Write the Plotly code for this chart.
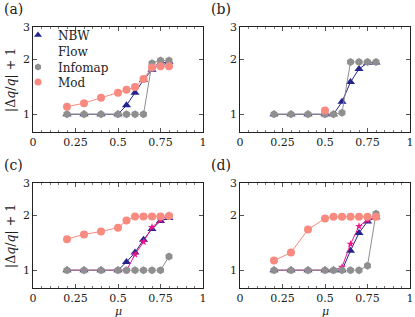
import plotly.graph_objects as go
import math

mu = [0.2, 0.3, 0.4, 0.5, 0.55, 0.6, 0.65, 0.7, 0.75, 0.8]

# panel (a)
a_nbw = [1, 1, 1, 1, 1.12, 1.31, 1.54, 1.75, 1.90, 1.94]
a_flow = [None, None, None, 1.0, None, None, None, None, None, None]
a_info = [1, 1, 1, 1, 1, 1, 1, 1.90, 1.97, 1.97]
a_mod = [1.10, 1.15, 1.23, 1.31, 1.36, 1.41, 1.56, 1.80, 1.83, 1.83]
# panel (b)
b_nbw = [1, 1, 1, 1, 1, 1.17, 1.50, 1.77, 1.91, 1.92]
b_flow = [None, None, None, 1.0, None, None, None, None, None, None]
b_info = [1, 1, 1, 1, 1, 1.02, 1.93, 1.93, 1.93, 1.93]
b_mod = [None, None, None, 1.05, None, None, None, None, None, None]
# panel (c)
c_nbw = [1, 1, 1, 1, 1.11, 1.25, 1.47, 1.68, 1.86, 1.93]
c_flow = [1, 1, 1, 1, 1, 1.22, 1.43, 1.72, 1.88, 2.0]
c_info = [1, 1, 1, 1, 1, 1, 1, 1, 1, 1.19]
c_mod = [1.48, 1.57, 1.63, 1.71, 1.87, 1.97, 1.97, 1.97, 1.97, 1.98]
# panel (d)
d_nbw = [1, 1, 1, 1, 1, 1, 1.28, 1.60, 1.85, 1.95]
d_flow = [1, 1, 1, 1, 1, 1.04, 1.39, 1.74, 1.88, 1.95]
d_info = [1, 1, 1, 1, 1, 1, 1, 1, 1.06, 2.04]
d_mod = [1.13, 1.25, 1.67, 1.92, 1.96, 1.96, 1.96, 1.96, 1.96, 1.96]

panels = [
    (a_nbw, a_flow, a_info, a_mod),
    (b_nbw, b_flow, b_info, b_mod),
    (c_nbw, c_flow, c_info, c_mod),
    (d_nbw, d_flow, d_info, d_mod),
]
names = ["NBW", "Flow", "Infomap", "Mod"]
colors = {"NBW": "#24248c", "Flow": "#f0148c", "Infomap": "#8f8f8f", "Mod": "#f88a80"}
symbols = {"NBW": "triangle-up", "Flow": "star", "Infomap": "hexagon", "Mod": "circle"}
msize = {"NBW": 8, "Flow": 6, "Infomap": 8, "Mod": 8}

W, H = 415, 317
xdom = [[33 / W, 203 / W], [240 / W, 410 / W]]
ydom = [[1 - 132 / H, 1 - 27 / H], [1 - 288 / H, 1 - 183 / H]]

fig = go.Figure()
font = "DejaVu Serif"
for i, (nbw, flow, info, mod) in enumerate(panels):
    r, c = divmod(i, 2)
    ax = "" if i == 0 else str(i + 1)
    xa, ya = "x" + ax, "y" + ax
    for nm, vals in (("NBW", nbw), ("Flow", flow), ("Infomap", info), ("Mod", mod)):
        fig.add_trace(go.Scatter(
            x=mu, y=vals, mode="lines+markers", xaxis=xa, yaxis=ya, showlegend=False,
            line=dict(color=colors[nm], width=1),
            marker=dict(color=colors[nm], symbol=symbols[nm], size=msize[nm], line=dict(width=0)),
            connectgaps=False,
        ))
    axcommon = dict(showline=True, linecolor="#222", linewidth=0.8, mirror="ticks",
                    ticks="inside", ticklen=4, tickcolor="#555", showgrid=False, zeroline=False,
                    automargin=False,
                    tickfont=dict(family=font, size=11, color="#222"))
    fig.update_layout(**{
        "xaxis" + ax: dict(domain=xdom[c], range=[0, 1], anchor=ya,
                           tickvals=[0, 0.25, 0.5, 0.75, 1], ticktext=["0", "0.25", "0.5", "0.75", "1"],
                           minor=dict(dtick=0.05, tick0=0, ticks="inside", ticklen=2, tickcolor="#777"),
                           **axcommon),
        "yaxis" + ax: dict(domain=ydom[r], type="log", range=[math.log10(0.8), math.log10(3)], anchor=xa,
                           tickvals=[1, 2, 3], ticktext=["1", "2", "3"], **axcommon),
    })

# legend-only entries, one small legend per entry for exact row spacing
leg_y = [35, 51, 67, 82]
legends = {}
for k, (nm, ly) in enumerate(zip(names, leg_y)):
    lname = "legend" if k == 0 else "legend%d" % (k + 1)
    col = "rgba(0,0,0,0)" if nm == "Flow" else colors[nm]
    fig.add_trace(go.Scatter(x=[None], y=[None], mode="markers", name=nm, legend=lname,
                             marker=dict(color=col, symbol=symbols[nm], size=7, line=dict(width=0))))
    legends[lname] = dict(x=18 / W, y=1 - ly / H, xanchor="left", yanchor="middle",
                          bgcolor="rgba(0,0,0,0)", font=dict(family=font, size=12, color="#222"),
                          itemwidth=30, tracegroupgap=0, itemsizing="trace")

ann = []
labels = ["(a)", "(b)", "(c)", "(d)"]
pos = [(2, 9), (209, 9), (2, 165), (209, 165)]
for t, (px, py) in zip(labels, pos):
    ann.append(dict(text=t, x=px / W, y=1 - py / H, xref="paper", yref="paper", showarrow=False,
                    xanchor="left", yanchor="middle", font=dict(family=font, size=14, color="#222")))
for py in (80, 236):
    ann.append(dict(text="|Δ<i>q</i>/<i>q</i>| + 1", x=10 / W, y=1 - py / H, xref="paper", yref="paper",
                    showarrow=False, textangle=-90, xanchor="center", yanchor="middle",
                    font=dict(family=font, size=12.5, color="#222")))
for px in (118, 325):
    ann.append(dict(text="<i>μ</i>", x=px / W, y=1 - 311 / H, xref="paper", yref="paper",
                    showarrow=False, xanchor="center", yanchor="middle",
                    font=dict(family=font, size=11, color="#222")))

fig.update_layout(
    width=W, height=H, margin=dict(l=0, r=0, t=0, b=0, autoexpand=False),
    paper_bgcolor="white", plot_bgcolor="white",
    annotations=ann,
    showlegend=True,
    **legends,
)
fig.write_html("out.html", config={"displayModeBar": False},
               post_script="document.body.style.margin='0px';")
